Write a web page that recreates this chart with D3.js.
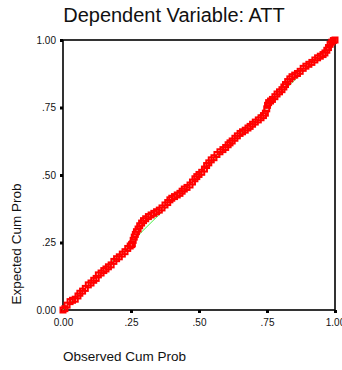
<!DOCTYPE html>
<html>
<head>
<meta charset="utf-8">
<script src="https://cdn.jsdelivr.net/npm/d3@7"></script>
<style>
  body { margin: 0; background: #fff; }
  text { font-family: "Liberation Sans", Arial, sans-serif; fill: #111; }
</style>
</head>
<body>
<svg id="chart" width="342" height="370"></svg>
<script>
// P-P plot of regression standardized residual
const obsProb = [0.000, 0.007, 0.015, 0.026, 0.035, 0.045, 0.055, 0.062, 0.072, 0.082,
  0.093, 0.103, 0.113, 0.122, 0.130, 0.140, 0.150, 0.158, 0.167, 0.177,
  0.187, 0.197, 0.207, 0.218, 0.228, 0.238, 0.247, 0.252, 0.255, 0.258,
  0.262, 0.266, 0.270, 0.276, 0.282, 0.289, 0.296, 0.304, 0.314, 0.324,
  0.334, 0.344, 0.354, 0.364, 0.375, 0.385, 0.393, 0.400, 0.410, 0.420,
  0.430, 0.438, 0.446, 0.456, 0.467, 0.476, 0.485, 0.492, 0.500, 0.510,
  0.520, 0.528, 0.536, 0.545, 0.555, 0.566, 0.577, 0.588, 0.598, 0.607,
  0.614, 0.622, 0.632, 0.641, 0.651, 0.660, 0.670, 0.680, 0.688, 0.697,
  0.707, 0.718, 0.728, 0.737, 0.744, 0.749, 0.752, 0.756, 0.763, 0.770,
  0.779, 0.787, 0.796, 0.805, 0.812, 0.818, 0.826, 0.834, 0.842, 0.852,
  0.862, 0.872, 0.883, 0.893, 0.904, 0.915, 0.926, 0.936, 0.946, 0.956,
  0.963, 0.970, 0.976, 0.982, 0.988, 0.994, 1.000];
const expProb = [0.000, 0.005, 0.018, 0.031, 0.036, 0.040, 0.052, 0.062, 0.070, 0.080,
  0.093, 0.100, 0.110, 0.117, 0.130, 0.137, 0.146, 0.152, 0.160, 0.167,
  0.180, 0.190, 0.197, 0.207, 0.216, 0.228, 0.237, 0.242, 0.245, 0.258,
  0.270, 0.280, 0.290, 0.300, 0.312, 0.322, 0.331, 0.338, 0.346, 0.352,
  0.358, 0.364, 0.370, 0.378, 0.389, 0.398, 0.408, 0.414, 0.420, 0.426,
  0.432, 0.440, 0.448, 0.454, 0.463, 0.474, 0.486, 0.494, 0.502, 0.510,
  0.522, 0.535, 0.545, 0.556, 0.564, 0.576, 0.586, 0.594, 0.602, 0.612,
  0.619, 0.626, 0.636, 0.645, 0.654, 0.660, 0.666, 0.674, 0.680, 0.688,
  0.696, 0.704, 0.712, 0.720, 0.729, 0.745, 0.758, 0.768, 0.774, 0.780,
  0.790, 0.800, 0.808, 0.816, 0.826, 0.835, 0.846, 0.856, 0.864, 0.870,
  0.876, 0.884, 0.895, 0.903, 0.910, 0.917, 0.926, 0.934, 0.940, 0.946,
  0.952, 0.962, 0.972, 0.984, 0.992, 0.998, 1.000];
const tickValues = [0, 0.25, 0.5, 0.75, 1];
const tickLabels = ["0.00", ".25", ".50", ".75", "1.00"];

const svg = d3.select("#chart");
const plotL = 63, plotR = 335, plotT = 40, plotB = 310;

const x = d3.scaleLinear().domain([0, 1]).range([plotL, plotR]);
const y = d3.scaleLinear().domain([0, 1]).range([plotB, plotT]);

// title
svg.append("text")
  .attr("x", 174).attr("y", 22)
  .attr("text-anchor", "middle")
  .style("font-size", "20px")
  .text("Dependent Variable: ATT");

// axes with little square ticks
const fmt = (d) => tickLabels[tickValues.indexOf(d)];
const xAxis = svg.append("g")
  .attr("transform", `translate(0,${plotB})`)
  .call(d3.axisBottom(x).tickValues(tickValues).tickFormat(fmt).tickSize(3).tickPadding(6));
const yAxis = svg.append("g")
  .attr("transform", `translate(${plotL},0)`)
  .call(d3.axisLeft(y).tickValues(tickValues).tickFormat(fmt).tickSize(3).tickPadding(4));
[xAxis, yAxis].forEach(g => {
  g.select(".domain").remove();
  g.selectAll(".tick line").attr("stroke", "#000").attr("stroke-width", 3);
  g.selectAll(".tick text")
    .style("font-family", "'Liberation Sans', Arial, sans-serif")
    .style("font-size", "10px").attr("fill", "#111");
});

// frame
svg.append("rect")
  .attr("x", plotL).attr("y", plotT)
  .attr("width", plotR - plotL).attr("height", plotB - plotT)
  .attr("fill", "none").attr("stroke", "#000").attr("stroke-width", 1.6);

// reference diagonal
svg.append("line")
  .attr("x1", x(0)).attr("y1", y(0))
  .attr("x2", x(1)).attr("y2", y(1))
  .attr("stroke", "#44ee44").attr("stroke-width", 1);

// points
svg.append("g").selectAll("rect")
  .data(obsProb.map((d, i) => [d, expProb[i]]))
  .join("rect")
  .attr("x", d => x(d[0]) - 2.5)
  .attr("y", d => y(d[1]) - 2.5)
  .attr("width", 5).attr("height", 5)
  .attr("fill", "none")
  .attr("stroke", "#ff0000")
  .attr("stroke-width", 2);

// axis titles
svg.append("text")
  .attr("transform", "translate(20.5,244) rotate(-90)")
  .attr("text-anchor", "middle")
  .style("font-size", "13.5px")
  .text("Expected Cum Prob");

svg.append("text")
  .attr("x", 63).attr("y", 361)
  .style("font-size", "13.5px")
  .text("Observed Cum Prob");
</script>
</body>
</html>
